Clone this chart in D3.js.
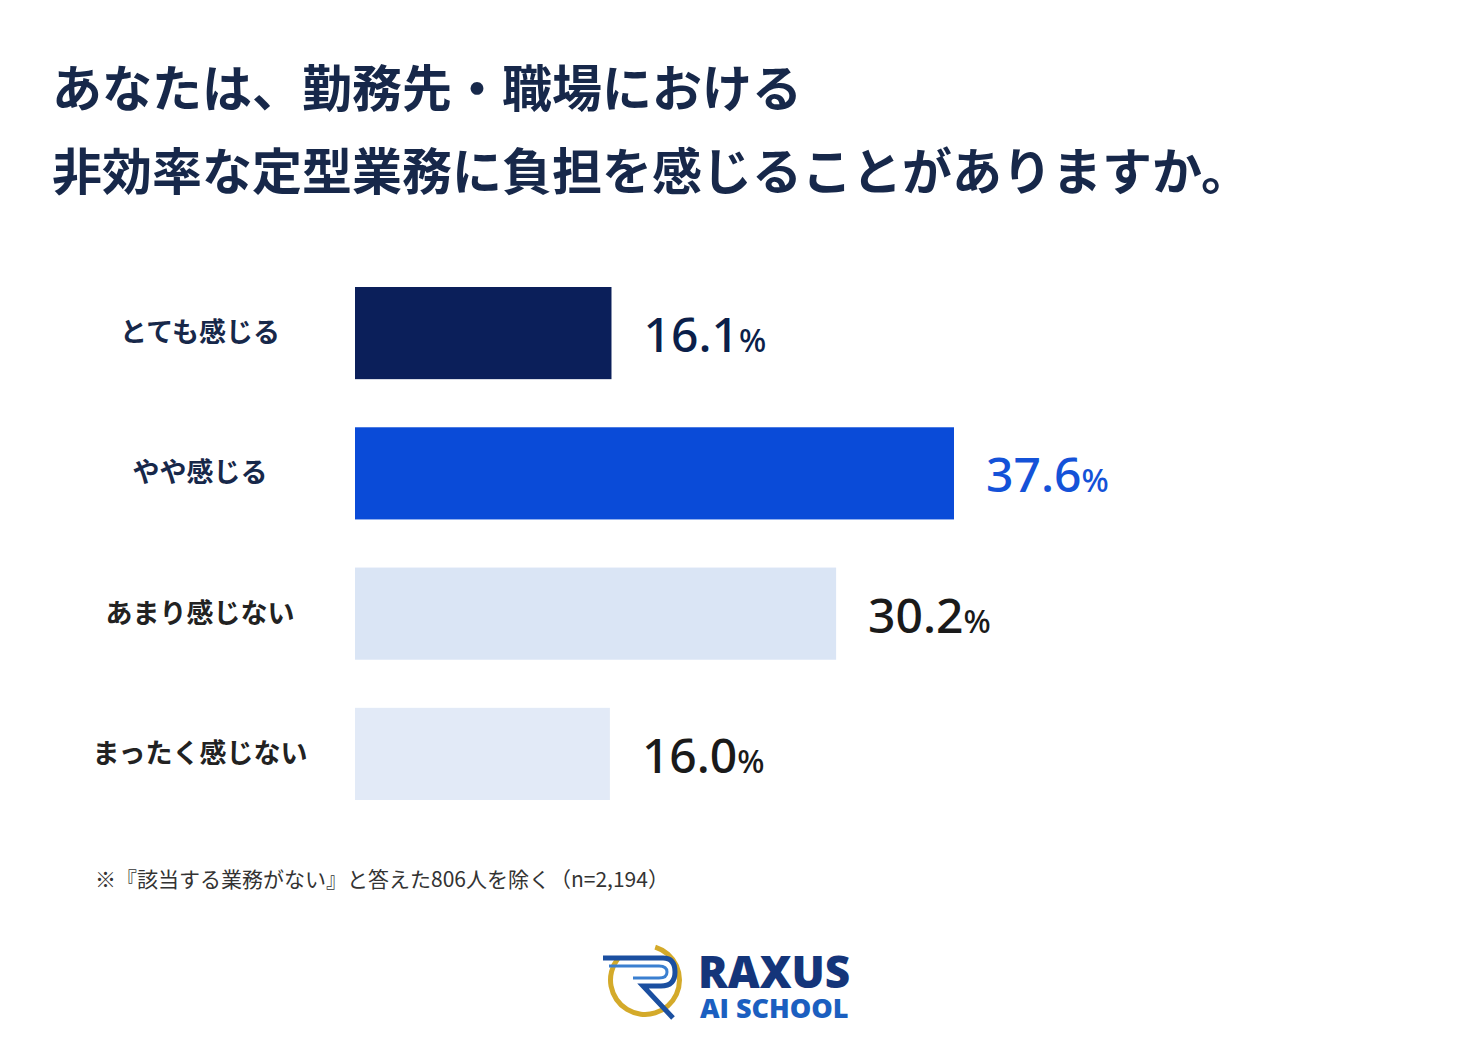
<!DOCTYPE html>
<html><head><meta charset="utf-8">
<script src="https://cdn.jsdelivr.net/npm/d3@7"></script>
<style>body{margin:0;background:#fff}svg{display:block}</style>
</head><body>
<svg id="chart" width="1484" height="1060"></svg>
<script>
const categories = ["とても感じる", "やや感じる", "あまり感じない", "まったく感じない"];
const values = [16.1, 37.6, 30.2, 16.0];
const barColors = ["#0b1f5a", "#0a4bd8", "#dae5f5", "#e2eaf7"];
const valueColors = ["#0b1f4a", "#1452d8", "#1a1a1a", "#1a1a1a"];
const titleLines = ["あなたは、勤務先・職場における", "非効率な定型業務に負担を感じることがありますか。"];
const note = "※『該当する業務がない』と答えた806人を除く（n=2,194）";

const svg = d3.select("#chart");
const font = "'Noto Sans CJK JP', 'Noto Sans', sans-serif";

svg.selectAll(".title").data(titleLines).enter().append("text")
  .attr("x", 52).attr("y", (d, i) => 107 + i * 83)
  .attr("font-family", font).attr("font-weight", 700).attr("font-size", 50)
  .attr("fill", "#17284a").text(d => d);

const x = d3.scaleLinear().domain([0, 37.6]).range([355, 954]);
const y = d3.scaleBand().domain(categories).range([287, 800]).paddingInner(0.343);

svg.selectAll(".bar").data(values).enter().append("rect")
  .attr("x", x(0)).attr("y", (d, i) => y(categories[i]))
  .attr("width", d => x(d) - x(0)).attr("height", y.bandwidth())
  .attr("fill", (d, i) => barColors[i]);

svg.selectAll(".cat").data(categories).enter().append("text")
  .attr("x", 200).attr("y", d => y(d) + y.bandwidth() / 2 + 9)
  .attr("text-anchor", "middle")
  .attr("font-family", font).attr("font-weight", 700).attr("font-size", 27)
  .attr("fill", (d, i) => i < 2 ? "#17284a" : "#222").text(d => d);

const vt = svg.selectAll(".val").data(values).enter().append("text")
  .attr("x", d => x(d) + 32).attr("y", (d, i) => y(categories[i]) + y.bandwidth() / 2 + 19)
  .attr("font-family", "'Noto Sans', sans-serif").attr("font-weight", 500)
  .attr("fill", (d, i) => valueColors[i]);
vt.append("tspan").attr("font-size", 48).text(d => d.toFixed(1));
vt.append("tspan").attr("font-size", 32).text("%");

svg.append("text").attr("x", 95).attr("y", 887)
  .attr("font-family", font).attr("font-size", 21).attr("fill", "#333").text(note);

// logo
const logo = svg.append("g").attr("transform", "translate(645,980)");
logo.append("path").attr("d", d3.arc()({innerRadius: 32, outerRadius: 37, startAngle: 0.3, endAngle: 2 * Math.PI - 0.9}))
  .attr("fill", "#d4aa2a");
logo.append("path").attr("d", "M-42,-22 L18,-22 Q30,-22 30,-8 Q30,6 16,6 L-2,6 L28,38")
  .attr("fill", "none").attr("stroke", "#1b4fa0").attr("stroke-width", 5);
logo.append("path").attr("d", "M-36,-14 L14,-14 Q22,-14 22,-8 Q22,-2 14,-2 L-12,-2")
  .attr("fill", "none").attr("stroke", "#3a7fd0").attr("stroke-width", 3);
svg.append("text").attr("x", 698).attr("y", 988)
  .attr("font-family", "'Open Sans', sans-serif").attr("font-weight", 800).attr("font-size", 44)
  .attr("fill", "#14357a").text("RAXUS");
svg.append("text").attr("x", 700).attr("y", 1018)
  .attr("font-family", "'Open Sans', sans-serif").attr("font-weight", 800).attr("font-size", 27)
  .attr("fill", "#1b5fc0").text("AI SCHOOL");
</script>
</body></html>
